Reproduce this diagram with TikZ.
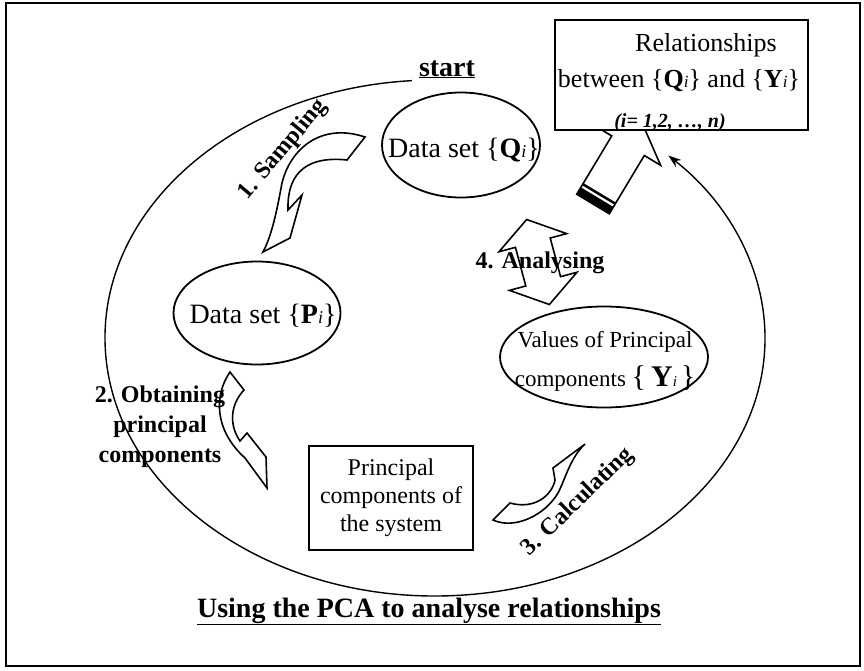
\documentclass[tikz,border=0pt]{standalone}
\usepackage{fontspec}
\setmainfont{Liberation Serif}
\usetikzlibrary{arrows.meta,shapes.geometric}

\begin{document}
\begin{tikzpicture}[
        x=1pt, y=1pt,
        >=Stealth,
        oval/.style={draw, ellipse, line width=1.8pt, inner sep=0pt},
        box/.style={draw, line width=1.8pt, align=center, inner sep=0pt},
        txt/.style={font=\fontsize{24}{28}\selectfont, align=center},
        lab/.style={font=\fontsize{24}{30}\selectfont\bfseries, align=center},
        blockarrow/.style={draw, fill=white, line width=1.6pt, line join=miter}
    ]
    \useasboundingbox (0,0) rectangle (864,-670);
    \draw[line width=2.8pt] (6,-3) rectangle (860,-666);

    % the big cycle
    \coordinate (c) at (435,-338);
    \coordinate (arcstart) at ([shift={(94:330 and 258)}]c);
    \draw[line width=1.4pt, -{Stealth[length=13pt,width=9pt]}] (arcstart)
        arc[start angle=94, end angle=405, x radius=330, y radius=258];

    % block arrows
    \draw[blockarrow] (365,-137) .. controls (320,-122) and (290,-150) .. (282,-183)
        .. controls (277,-210) and (272,-235) .. (263,-252) -- (290,-238) -- (302,-195)
        -- (288,-210) .. controls (287,-180) and (300,-155) .. (347,-160) -- cycle;
    \draw[blockarrow] (230,-372) .. controls (214,-395) and (214,-430) .. (245,-458)
        -- (267,-488) -- (266,-457) -- (247,-433) -- (240,-441)
        .. controls (229,-425) and (230,-405) .. (244,-390) -- cycle;
    \draw[blockarrow] (493,-520) -- (510,-503) .. controls (535,-510) and (552,-495) .. (555,-480)
        -- (553,-468) -- (585,-444) .. controls (570,-458) and (565,-480) .. (558,-493)
        .. controls (545,-515) and (515,-530) .. (493,-520) -- cycle;
    \begin{scope}[shift={(538,-262)}, rotate=15]
        \draw[blockarrow] (0,44) -- (35,20) -- (18,20) -- (18,-20) -- (35,-20) -- (0,-44)
            -- (-35,-20) -- (-18,-20) -- (-18,20) -- (-35,20) -- cycle;
    \end{scope}
    \begin{scope}[shift={(593,-204)}, rotate=59]
        \draw[blockarrow] (0,-19) -- (68,-19) -- (68,-38) -- (95,0) -- (68,38) -- (68,19) -- (0,19) -- cycle;
        \fill (0,-19) rectangle (8,19);
        \fill (10.5,-19) rectangle (13,19);
    \end{scope}

    % shapes
    \node[oval, minimum width=158, minimum height=105] (qset) at (461,-145) {};
    \node[oval, minimum width=167, minimum height=103] (pset) at (257,-313) {};
    \node[oval, minimum width=208, minimum height=101] (yval) at (604,-357) {};
    \node[box, minimum width=164, minimum height=104, txt] (pc) at (391,-498) {Principal\\components of\\the system};
    \node[box, line width=2.4pt, fill=white, minimum width=253, minimum height=110] (rel) at (681.5,-75) {};

    % texts
    \node[font=\fontsize{28}{28}\selectfont\bfseries, anchor=base] (start) at (447,-76) {\underline{start}};
    \node[font=\fontsize{28}{28}\selectfont, anchor=base] (qtext) at (464,-157)
        {Data set \{\textbf{Q}{\fontsize{18}{18}\selectfont\textit{i}}\}};
    \node[font=\fontsize{28}{28}\selectfont, anchor=base] (ptext) at (263,-323)
        {Data set \{\textbf{P}{\fontsize{18}{18}\selectfont\textit{i}}\}};
    \node[font=\fontsize{23}{39}\selectfont, align=center] (ytext) at (605,-361)
        {Values of Principal\\components {\fontsize{30}{30}\selectfont\{\,\textbf{Y}}{\fontsize{15}{15}\selectfont\textit{i}}\,{\fontsize{30}{30}\selectfont\}}};
    \node[font=\fontsize{26}{26}\selectfont, anchor=base] (rel1) at (706,-51) {Relationships};
    \node[font=\fontsize{26}{26}\selectfont, anchor=base] (rel2) at (679,-87)
        {between \{\textbf{Q}{\fontsize{17}{17}\selectfont\textit{i}}\} and \{\textbf{Y}{\fontsize{17}{17}\selectfont\textit{i}}\}};
    \node[font=\fontsize{20}{20}\selectfont\bfseries\itshape, anchor=base] (rel3) at (670,-127) {(i= 1,2, \ldots, n)};

    % step labels
    \node[lab, rotate=50] (sampling) at (283,-150) {1. Sampling};
    \node[lab] (obtaining) at (160,-427) {2. Obtaining\\principal\\components};
    \node[lab, rotate=44] (calculating) at (578,-502) {3. Calculating};
    \node[lab, anchor=base] (analysing) at (540,-268) {4. Analysing};

    \node[font=\fontsize{28}{28}\selectfont\bfseries, anchor=base] (title) at (429,-617)
        {\underline{Using the PCA to analyse relationships}};
\end{tikzpicture}
\end{document}
